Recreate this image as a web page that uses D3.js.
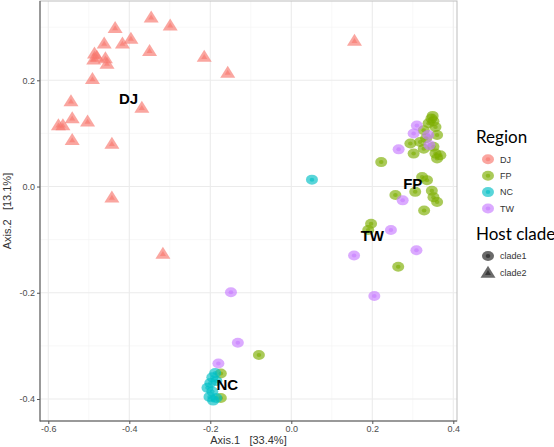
<!DOCTYPE html>
<html><head><meta charset="utf-8">
<script src="https://cdn.jsdelivr.net/npm/d3@7"></script>
<style>body{margin:0;background:#fff}svg{display:block}</style>
</head><body><svg id="c" width="554" height="447"></svg>
<script>
// ---- data ----
const regions = ["DJ","FP","NC","TW"];
const regionColors = ["#F8766D","#7CAE00","#00BFC4","#C77CFF"];
const clades = ["clade1","clade2"];
const xTicks = [-0.6,-0.4,-0.2,0.0,0.2,0.4];
const yTicks = [-0.4,-0.2,0.0,0.2];
// DJ samples (clade2, triangles)
const djX = [-0.346,-0.299,-0.435,-0.396,-0.462,-0.417,-0.350,-0.215,-0.157,-0.486,-0.480,-0.488,-0.459,-0.455,-0.491,-0.544,-0.369,-0.541,-0.503,-0.575,-0.564,-0.541,-0.443,-0.443,0.156,-0.317];
const djY = [0.318,0.303,0.298,0.278,0.269,0.269,0.255,0.244,0.214,0.250,0.244,0.239,0.241,0.231,0.202,0.160,0.148,0.128,0.122,0.115,0.115,0.087,0.080,-0.021,0.274,-0.127];
// FP samples (clade1)
const fpX = [0.346,0.339,0.351,0.356,0.327,0.360,0.294,0.318,0.327,0.302,0.356,0.368,0.360,0.351,0.333,0.222,0.323,0.335,0.257,0.306,0.347,0.351,0.360,0.328,0.197,0.190,0.264,-0.080,-0.174,-0.174,0.349];
const fpY = [0.128,0.119,0.123,0.112,0.106,0.097,0.081,0.084,0.071,0.062,0.062,0.059,0.053,0.075,0.091,0.046,0.018,0.012,-0.016,-0.010,-0.008,-0.020,-0.029,-0.045,-0.070,-0.082,-0.151,-0.317,-0.352,-0.398,0.133];
// NC samples (clade1)
const ncX = [0.051,-0.188,-0.195,-0.200,-0.207,-0.195,-0.202,-0.193,-0.185,-0.185];
const ncY = [0.013,-0.351,-0.359,-0.370,-0.379,-0.386,-0.396,-0.403,-0.366,-0.398];
// TW samples (clade1)
const twX = [0.310,0.302,0.338,0.341,0.265,0.275,0.246,0.155,0.309,0.205,-0.149,-0.132,-0.180];
const twY = [0.115,0.100,0.097,0.078,0.070,-0.026,-0.082,-0.130,-0.120,-0.206,-0.199,-0.294,-0.333];
// group labels
const labelText = ["DJ","FP","TW","NC"];
const labelX = [-0.402,0.300,0.200,-0.158];
const labelY = [0.164,0.004,-0.093,-0.374];

// ---- layout ----
const svg = d3.select("#c");
const P = {l:40, r:457, t:1, b:421};
const x = d3.scaleLinear().domain([-0.6,0.4]).range([48.3,453.3]);
const y = d3.scaleLinear().domain([-0.4,0.2]).range([399,80.3]);
const color = d3.scaleOrdinal().domain(regions).range(regionColors);

const g = svg.append("g");
g.append("rect").attr("x",P.l).attr("y",P.t).attr("width",P.r-P.l).attr("height",P.b-P.t).attr("fill","#fff");
// minor grid
const xMinor = xTicks.slice(0,-1).map((v,i)=>(v+xTicks[i+1])/2);
const yMinor = yTicks.slice(0,-1).map((v,i)=>(v+yTicks[i+1])/2).concat([0.3]);
g.selectAll(".xm").data(xMinor).join("line").attr("x1",d=>x(d)).attr("x2",d=>x(d)).attr("y1",P.t).attr("y2",P.b).attr("stroke","#f2f2f2").attr("stroke-width",0.6);
g.selectAll(".ym").data(yMinor).join("line").attr("y1",d=>y(d)).attr("y2",d=>y(d)).attr("x1",P.l).attr("x2",P.r).attr("stroke","#f2f2f2").attr("stroke-width",0.6);
g.selectAll(".xg").data(xTicks).join("line").attr("x1",d=>x(d)).attr("x2",d=>x(d)).attr("y1",P.t).attr("y2",P.b).attr("stroke","#ebebeb").attr("stroke-width",1.1);
g.selectAll(".yg").data(yTicks).join("line").attr("y1",d=>y(d)).attr("y2",d=>y(d)).attr("x1",P.l).attr("x2",P.r).attr("stroke","#ebebeb").attr("stroke-width",1.1);
// border
g.append("rect").attr("x",P.l).attr("y",P.t).attr("width",P.r-P.l).attr("height",P.b-P.t).attr("fill","none").attr("stroke","#bdbdbd").attr("stroke-width",1);
g.append("line").attr("x1",P.l).attr("x2",P.l).attr("y1",P.t).attr("y2",P.b+0.5).attr("stroke","#555").attr("stroke-width",1);
g.append("line").attr("x1",P.l).attr("x2",P.r).attr("y1",P.b).attr("y2",P.b).attr("stroke","#555").attr("stroke-width",1);

// axes
const fmt = d=> d.toFixed(1);
const xa = svg.append("g").attr("transform",`translate(0,${P.b})`)
  .call(d3.axisBottom(x).tickValues(xTicks).tickFormat(fmt).tickSize(3).tickPadding(2));
const ya = svg.append("g").attr("transform",`translate(${P.l},0)`)
  .call(d3.axisLeft(y).tickValues(yTicks).tickFormat(fmt).tickSize(3).tickPadding(2));
[xa,ya].forEach(a=>{a.select(".domain").remove();
  a.selectAll("line").attr("stroke","#555");
  a.selectAll("text").attr("fill","#4d4d4d").attr("font-family","Liberation Sans, Arial, sans-serif").attr("font-size",9);});

svg.append("text").attr("x",(P.l+P.r)/2).attr("y",444).attr("text-anchor","middle")
  .attr("font-family","Liberation Sans, Arial, sans-serif").attr("font-size",11).attr("fill","#333")
  .style("white-space","pre").text("Axis.1   [33.4%]");
svg.append("text").attr("transform",`translate(11,${(P.t+P.b)/2}) rotate(-90)`).attr("text-anchor","middle")
  .attr("font-family","Liberation Sans, Arial, sans-serif").attr("font-size",11).attr("fill","#333")
  .style("white-space","pre").text("Axis.2   [13.1%]");

// points
function makePts(xs,ys,reg,clade){return xs.map((v,i)=>({x:v,y:ys[i],region:reg,clade:clade}));}
const pts = [].concat(makePts(djX,djY,"DJ","clade2"),makePts(fpX,fpY,"FP","clade1"),
  makePts(ncX,ncY,"NC","clade1"),makePts(twX,twY,"TW","clade1"));
const tri = (w,h)=>`M0,${-h*0.6}L${w/2},${h*0.4}L${-w/2},${h*0.4}Z`;
const pg = svg.append("g");
function drawMark(sel,d,col,scale){
  if(d.clade==="clade2"){
    sel.append("path").attr("d",tri(15*scale,12*scale)).attr("fill",col).attr("fill-opacity",0.65);
    sel.append("path").attr("d",tri(6*scale,5*scale)).attr("fill",col).attr("fill-opacity",0.6);
  } else {
    sel.append("ellipse").attr("rx",6*scale).attr("ry",5*scale).attr("fill",col).attr("fill-opacity",0.65);
    sel.append("ellipse").attr("rx",2.3*scale).attr("ry",2*scale).attr("fill",col).attr("fill-opacity",0.6);
  }
}
pts.forEach(d=>{
  const s = pg.append("g").attr("transform",`translate(${x(d.x)},${y(d.y)})`);
  drawMark(s,d,color(d.region),1);
});
// group labels
svg.selectAll(".lab").data(labelText).join("text")
  .attr("x",(d,i)=>x(labelX[i])).attr("y",(d,i)=>y(labelY[i])+5).attr("text-anchor","middle")
  .attr("font-family","Liberation Sans, Arial, sans-serif").attr("font-weight","bold").attr("font-size",15)
  .attr("fill","#000").text(d=>d);

// legend
const lg = svg.append("g");
lg.append("text").attr("x",476).attr("y",143).attr("font-family","Lato, Open Sans, sans-serif").attr("font-size",17).attr("fill","#000").text("Region");
regions.forEach((r,i)=>{
  const yy = 159.3 + i*16.4;
  const s = lg.append("g").attr("transform",`translate(488,${yy})`);
  drawMark(s,{clade:"clade1"},color(r),1);
  lg.append("text").attr("x",500).attr("y",yy+3.3).attr("font-family","Liberation Sans, Arial, sans-serif").attr("font-size",9).attr("fill","#333").text(r);
});
lg.append("text").attr("x",476).attr("y",240).attr("font-family","Lato, Open Sans, sans-serif").attr("font-size",17).attr("fill","#000").text("Host clade");
clades.forEach((c,i)=>{
  const yy = 256 + i*17;
  const s = lg.append("g").attr("transform",`translate(488,${yy})`);
  drawMark(s,{clade:c},"#1a1a1a",1);
  lg.append("text").attr("x",500).attr("y",yy+3.3).attr("font-family","Liberation Sans, Arial, sans-serif").attr("font-size",9).attr("fill","#333").text(c);
});
</script></body></html>
